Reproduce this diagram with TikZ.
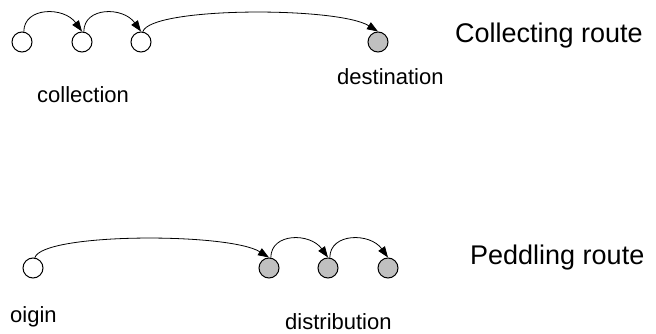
\documentclass[tikz,border=0pt]{standalone}
\usepackage{fontspec}
\setmainfont{Liberation Sans}
\usetikzlibrary{arrows.meta}
\definecolor{stopgray}{RGB}{192,192,192}
\tikzset{
  stop/.style={circle,draw=black,line width=1pt,minimum size=20pt,inner sep=0pt},
  pickup/.style={stop,fill=white},
  drop/.style={stop,fill=stopgray},
  hop/.style={line width=0.8pt,-{Triangle[length=11pt,width=8pt]}},
  lbl/.style={anchor=base west,inner sep=0pt,font=\fontsize{22}{26}\selectfont},
  ttl/.style={anchor=base west,inner sep=0pt,font=\fontsize{27}{32}\selectfont},
}
\begin{document}
\begin{tikzpicture}[x=1pt,y=-1pt]
\useasboundingbox (0,0) rectangle (656,334);
% collecting route
\node[pickup] (c1) at (22,42) {};
\node[pickup] (c2) at (82,42) {};
\node[pickup] (c3) at (141,42) {};
\node[drop] (d) at (378,42) {};
\draw[hop] (c1.80) .. controls +(0,-25) and +(-18,-25) .. (c2.north);
\draw[hop] (c2.80) .. controls +(0,-25) and +(-18,-25) .. (c3.north);
\draw[hop] (c3.80) .. controls +(8,-25) and +(-40,-25) .. (d.north);
\node[lbl] (lc) at (37,103) {collection};
\node[lbl] (ld) at (337,85) {destination};
\node[ttl] (tc) at (455,43) {Collecting route};
% peddling route
\node[pickup] (o) at (33,268) {};
\node[drop] (g1) at (269,268) {};
\node[drop] (g2) at (328,268) {};
\node[drop] (g3) at (388,268) {};
\draw[hop] (o.80) .. controls +(8,-25) and +(-40,-25) .. (g1.north);
\draw[hop] (g1.80) .. controls +(0,-25) and +(-18,-25) .. (g2.north);
\draw[hop] (g2.80) .. controls +(0,-25) and +(-18,-25) .. (g3.north);
\node[lbl] (lo) at (10,322) {oigin};
\node[lbl] (ldi) at (285,329) {distribution};
\node[ttl] (tp) at (470,264) {Peddling route};
\end{tikzpicture}
\end{document}
